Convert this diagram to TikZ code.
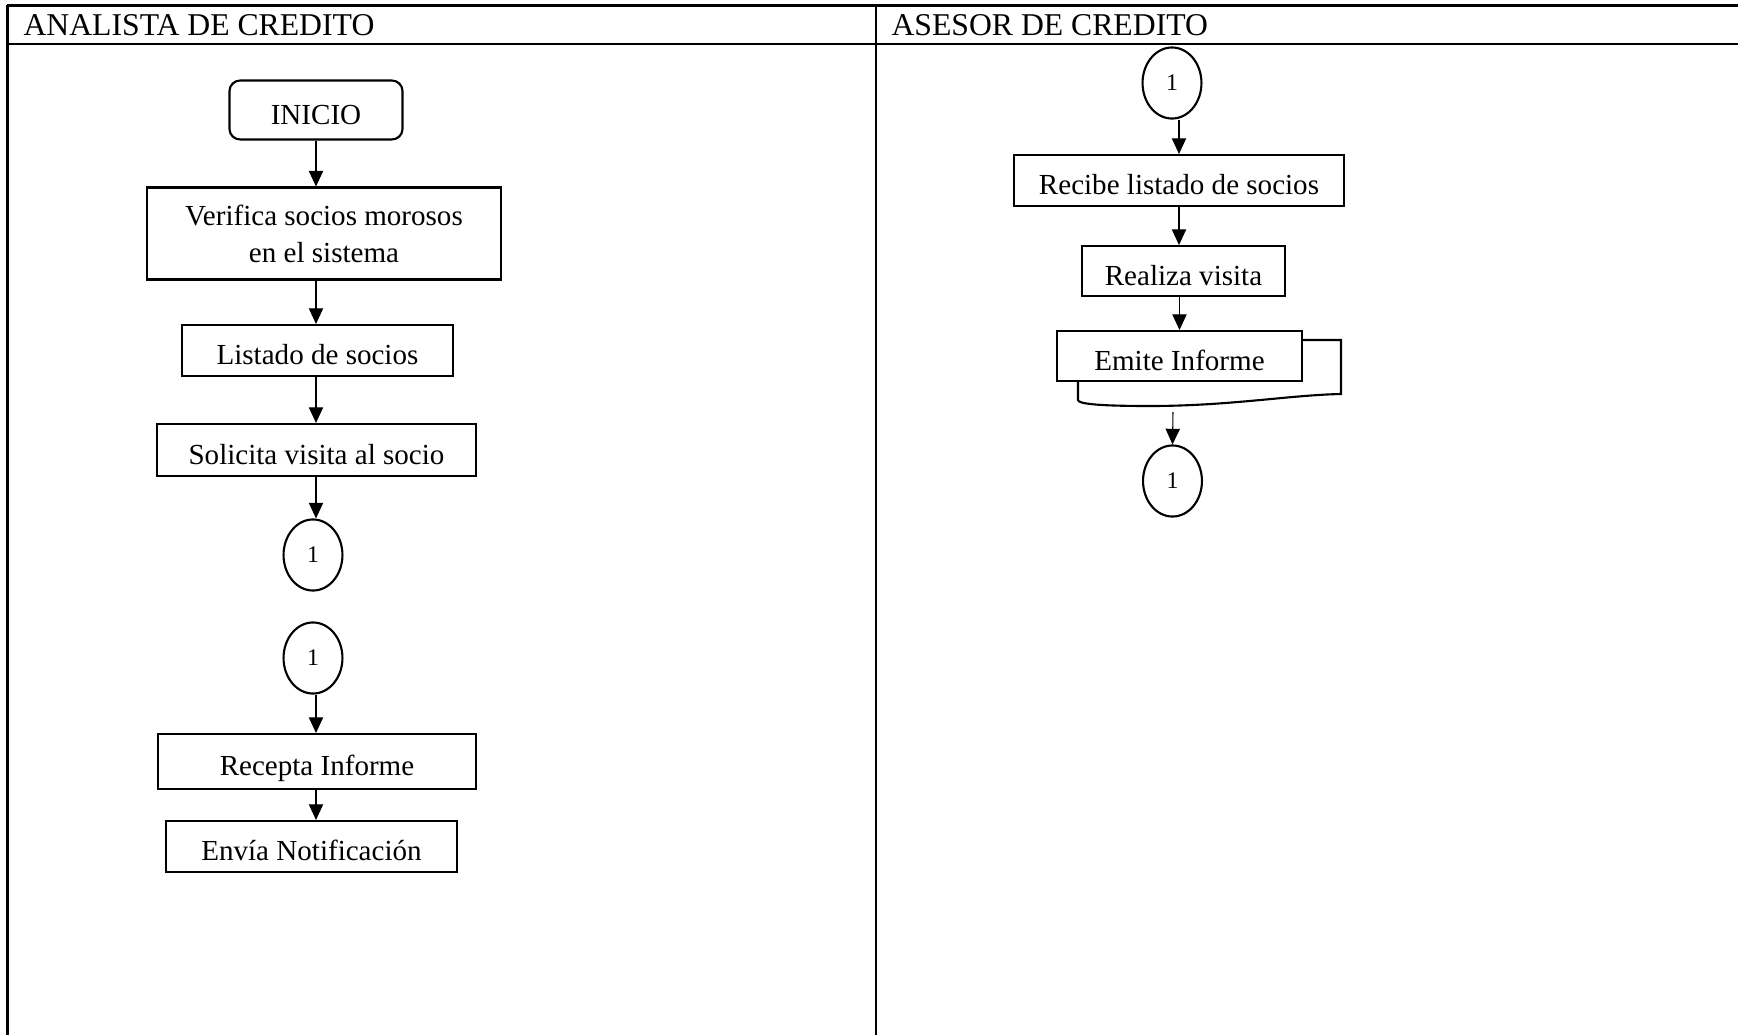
\documentclass[tikz,border=0pt]{standalone}
\usepackage{fontspec}
\setmainfont{Liberation Serif}
\usetikzlibrary{arrows.meta,shapes.geometric}

\tikzset{
	proc/.style={draw=black, line width=0.8pt, inner sep=0pt, align=center, font=\fontsize{11}{14}\selectfont},
	linea/.style={text height=10.8pt, text depth=0pt},
	conector/.style={ellipse, draw=black, line width=0.8pt, inner sep=0pt, minimum width=22.3pt, minimum height=26.9pt, font=\fontsize{9}{10}\selectfont},
	flecha/.style={-{Triangle[length=5.9pt,width=5.4pt]}, line width=0.4pt},
	carril/.style={line width=0.8pt},
	titulo/.style={anchor=base west, inner sep=0pt, font=\fontsize{12}{14}\selectfont}
}

\begin{document}
\begin{tikzpicture}[x=0.3785pt, y=-0.3785pt]
	\useasboundingbox (0,0) rectangle (1738,1035);
	
	%table
	\draw[carril] (7,5.5)--(1738,5.5);		%top line
	\draw[carril] (7,44)--(1738,44);		%header line
	\draw[carril] (7.5,5)--(7.5,1035);		%left line
	\draw[carril] (876,5)--(876,1035);		%middle line
	\node[titulo] (hdA) at (23,35) {ANALISTA DE CREDITO};
	\node[titulo] (hdB) at (891,35) {ASESOR DE CREDITO};
	
	%analista de credito
	\node[proc, linea, rounded corners=4pt, minimum width=65.5pt, minimum height=22.3pt] (ini) at (316,110) {INICIO};
	\node[proc, minimum width=134pt, minimum height=34.8pt] (ver) at (324,233.5) {Verifica socios morosos\\en el sistema};
	\node[proc, linea, minimum width=102.6pt, minimum height=19.3pt] (lis) at (317.5,350.5) {Listado de socios};
	\node[proc, linea, minimum width=120.7pt, minimum height=19.7pt] (sol) at (316.5,450) {Solicita visita al socio};
	\node[conector] (c1) at (313,555) {1};
	\node[conector] (c2) at (313,658) {1};
	\node[proc, linea, minimum width=120.4pt, minimum height=20.8pt] (rec) at (317,761.5) {Recepta Informe};
	\node[proc, linea, minimum width=110.1pt, minimum height=19.3pt] (env) at (311.5,846.5) {Envía Notificación};
	
	\draw[flecha] (ini.south)--(ini.south |- ver.north);
	\draw[flecha] (ini.south |- ver.south)--(ini.south |- lis.north);
	\draw[flecha] (ini.south |- lis.south)--(ini.south |- sol.north);
	\draw[flecha] (ini.south |- sol.south)--(ini.south |- c1.north);
	\draw[flecha] (ini.south |- c2.south)--(ini.south |- rec.north);
	\draw[flecha] (ini.south |- rec.south)--(ini.south |- env.north);
	
	%asesor de credito
	\node[conector] (c3) at (1172,83) {1};
	\node[proc, linea, minimum width=124.9pt, minimum height=19.3pt] (rcb) at (1179,180.5) {Recibe listado de socios};
	\node[proc, linea, minimum width=76.8pt, minimum height=18.9pt] (rea) at (1183.5,271) {Realiza visita};
	\node[proc, linea, minimum width=92.7pt, minimum height=18.9pt] (emi) at (1179.5,356) {Emite Informe};
	\node[conector] (c4) at (1172.5,481) {1};
	
	%document sheet behind emite informe
	\draw[carril] (emi.north east |- 0,340)--(1341,340)--(1341,394)
		.. controls (1290,395) and (1230,406) .. (1150,406)
		.. controls (1100,406) and (1078,404) .. (1078,400)--(1078,381);
	\coordinate (emib) at (1173,412);
	
	\draw[flecha] (c3.south -| rcb.north)--(rcb.north);
	\draw[flecha] (rcb.south)--(rcb.south |- rea.north);
	\draw[flecha] (emi.north |- rea.south)--(emi.north);
	\draw[flecha] (emib)--(c4.north);
	
\end{tikzpicture}
\end{document}
